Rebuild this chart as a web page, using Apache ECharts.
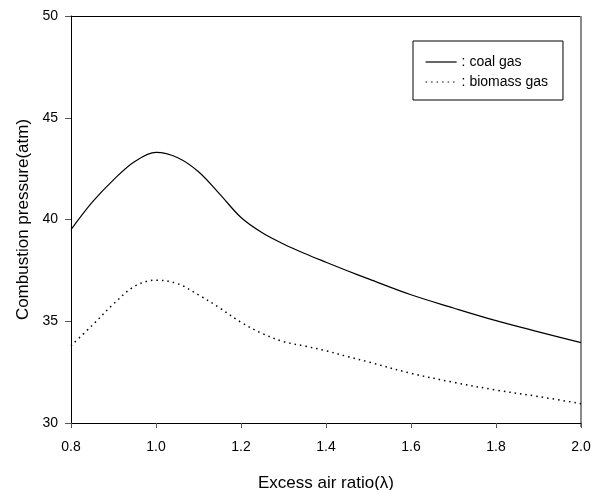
<!DOCTYPE html>
<html>
<head>
<meta charset="utf-8">
<script src="https://cdn.jsdelivr.net/npm/echarts@6/dist/echarts.min.js"></script>
<style>
  html, body { margin: 0; padding: 0; background: #fff; }
  #chart { width: 605px; height: 490px; }
</style>
</head>
<body>
<div id="chart"></div>
<script>
// Excess air ratio (λ) sample points
const airRatio = [0.80, 0.85, 0.90, 0.95, 1.00, 1.05, 1.10, 1.15, 1.20, 1.25, 1.30, 1.35, 1.40, 1.45, 1.50, 1.60, 1.70, 1.80, 1.90, 2.00];
// Combustion pressure (atm) for each fuel
const coalGas    = [39.5, 40.85, 41.95, 42.85, 43.3, 43.05, 42.35, 41.25, 40.1, 39.35, 38.8, 38.33, 37.9, 37.48, 37.08, 36.3, 35.65, 35.03, 34.48, 33.95];
const biomassGas = [33.8, 34.8, 35.85, 36.72, 37.02, 36.85, 36.3, 35.65, 34.95, 34.4, 34.0, 33.78, 33.55, 33.27, 33.0, 32.44, 32.0, 31.62, 31.3, 30.95];
const xTicks = [0.8, 1.0, 1.2, 1.4, 1.6, 1.8, 2.0];
const yTicks = [30, 35, 40, 45, 50];

const FONT = '"Liberation Sans", Arial, sans-serif';
const pair = (ys) => airRatio.map((x, i) => [x, ys[i]]);

const chart = echarts.init(document.getElementById('chart'), null, { renderer: 'canvas' });
chart.setOption({
  animation: false,
  backgroundColor: '#ffffff',
  grid: { left: 71, top: 16, width: 510, height: 407, containLabel: false, outerBoundsMode: 'none' },
  xAxis: {
    type: 'value',
    min: xTicks[0], max: xTicks[xTicks.length - 1], interval: 0.2,
    name: 'Excess air ratio(λ)',
    nameLocation: 'middle',
    nameGap: 52,
    nameTextStyle: { fontFamily: FONT, fontSize: 17, color: '#000' },
    axisLine: { show: true, lineStyle: { color: '#000', width: 1 } },
    axisTick: { show: true, length: 5, lineStyle: { color: '#555' } },
    axisLabel: {
      fontFamily: FONT, fontSize: 14, color: '#000', margin: 17,
      formatter: (v) => v.toFixed(1)
    },
    splitLine: { show: false }
  },
  yAxis: {
    type: 'value',
    min: yTicks[0], max: yTicks[yTicks.length - 1], interval: 5,
    name: 'Combustion pressure(atm)',
    nameLocation: 'middle',
    nameGap: 34,
    nameTextStyle: { fontFamily: FONT, fontSize: 17, color: '#000' },
    axisLine: { show: true, lineStyle: { color: '#000', width: 1 } },
    axisTick: { show: true, length: 6, lineStyle: { color: '#555' } },
    axisLabel: { fontFamily: FONT, fontSize: 14, color: '#000', margin: 13 },
    splitLine: { show: false }
  },
  legend: {
    orient: 'vertical',
    left: 413, top: 41,
    padding: [14, 15, 11, 12],
    itemGap: 6,
    itemWidth: 31, itemHeight: 14,
    borderColor: '#000', borderWidth: 1,
    backgroundColor: '#fff',
    itemStyle: { opacity: 0 },
    lineStyle: { width: 1.2 },
    textStyle: { fontFamily: FONT, fontSize: 14, color: '#000' },
    formatter: (name) => ': ' + name,
    data: ['coal gas', 'biomass gas']
  },
  graphic: [
    // top and right frame lines of the plot box
    { type: 'line', shape: { x1: 71, y1: 16.5, x2: 581, y2: 16.5 }, style: { stroke: '#000', lineWidth: 1 } },
    { type: 'line', shape: { x1: 581, y1: 16, x2: 581, y2: 427 }, style: { stroke: '#8a8a8a', lineWidth: 2 } }
  ],
  series: [
    {
      name: 'coal gas',
      type: 'line',
      data: pair(coalGas),
      smooth: 0.35,
      symbol: 'none',
      lineStyle: { color: '#000', width: 1.2, type: 'solid' },
      itemStyle: { color: '#000' }
    },
    {
      name: 'biomass gas',
      type: 'line',
      data: pair(biomassGas),
      smooth: 0.35,
      symbol: 'none',
      lineStyle: { color: '#000', width: 1.5, type: [1.5, 4] },
      itemStyle: { color: '#000' }
    }
  ]
});
</script>
</body>
</html>
